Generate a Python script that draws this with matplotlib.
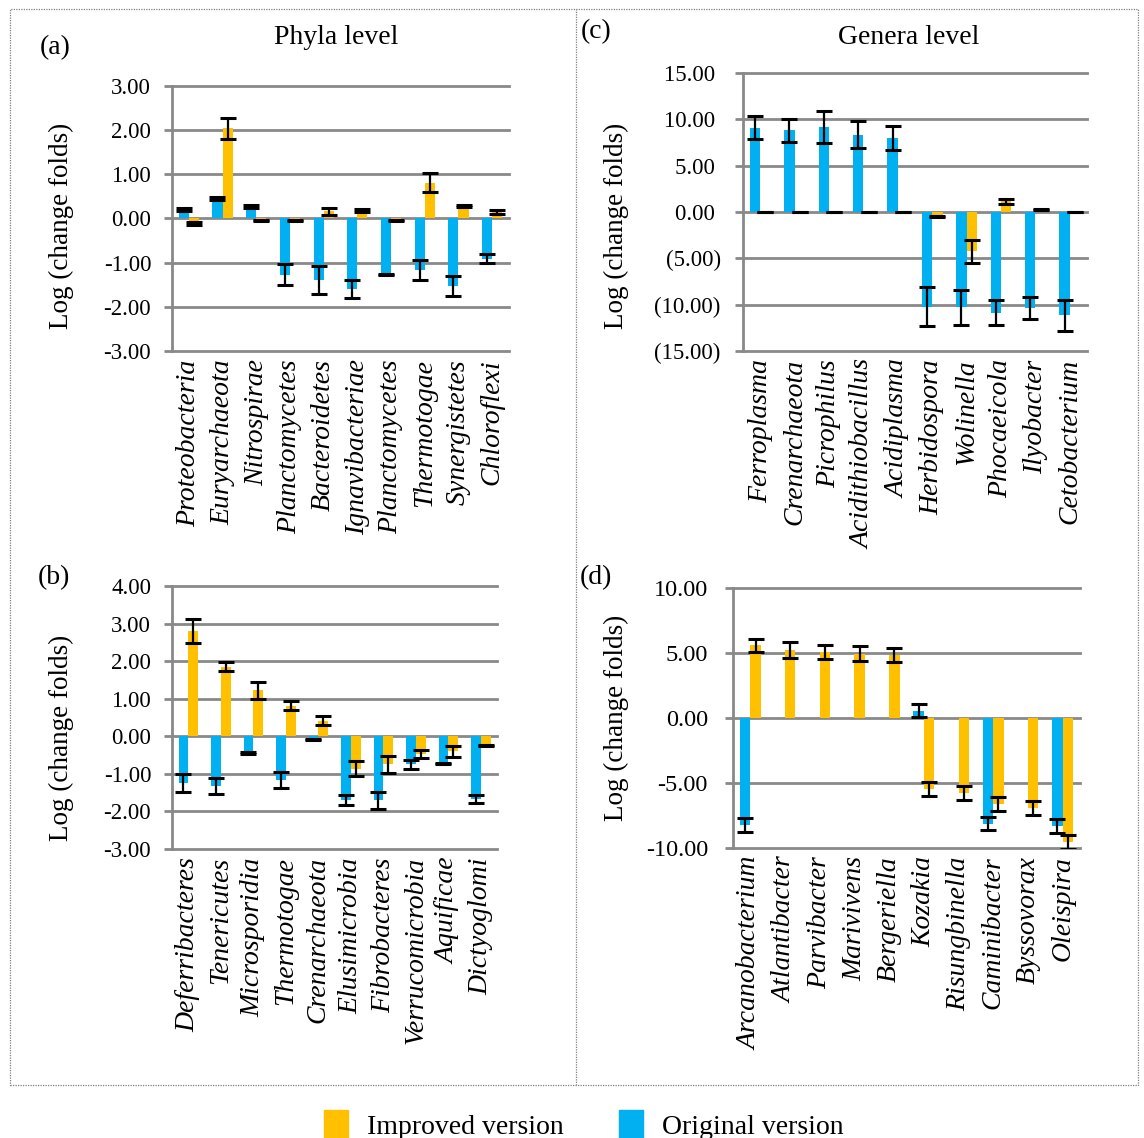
import numpy as np
import matplotlib
matplotlib.use("Agg")
import matplotlib.pyplot as plt
from matplotlib.patches import Rectangle, Patch
from matplotlib.lines import Line2D
from matplotlib.ticker import FuncFormatter

# %% data: log change folds, mean and error for each version
phyla_a = ["Proteobacteria", "Euryarchaeota", "Nitrospirae", "Planctomycetes", "Bacteroidetes",
           "Ignavibacteriae", "Planctomycetes", "Thermotogae", "Synergistetes", "Chloroflexi"]
orig_a = [0.20, 0.45, 0.27, -1.27, -1.40, -1.60, -1.27, -1.16, -1.53, -0.91]
orig_a_err = [0.04, 0.04, 0.03, 0.23, 0.32, 0.21, 0.02, 0.23, 0.23, 0.10]
impr_a = [-0.11, 2.04, -0.05, -0.05, 0.16, 0.18, -0.05, 0.81, 0.28, 0.15]
impr_a_err = [0.03, 0.23, 0.01, 0.01, 0.08, 0.03, 0.01, 0.22, 0.03, 0.04]

phyla_b = ["Deferribacteres", "Tenericutes", "Microsporidia", "Thermotogae", "Crenarchaeota",
           "Elusimicrobia", "Fibrobacteres", "Verrucomicrobia", "Aquificae", "Dictyoglomi"]
orig_b = [-1.24, -1.32, -0.44, -1.16, -0.09, -1.70, -1.70, -0.75, -0.72, -1.66]
orig_b_err = [0.24, 0.22, 0.02, 0.21, 0.02, 0.13, 0.23, 0.12, 0.02, 0.11]
impr_b = [2.80, 1.85, 1.22, 0.81, 0.41, -0.86, -0.75, -0.48, -0.40, -0.25]
impr_b_err = [0.32, 0.12, 0.23, 0.12, 0.12, 0.21, 0.22, 0.11, 0.14, 0.02]

genera_c = ["Ferroplasma", "Crenarchaeota", "Picrophilus", "Acidithiobacillus", "Acidiplasma",
            "Herbidospora", "Wolinella", "Phocaeicola", "Ilyobacter", "Cetobacterium"]
orig_c = [9.10, 8.80, 9.20, 8.35, 7.95, -10.20, -10.30, -10.85, -10.40, -11.15]
orig_c_err = [1.25, 1.25, 1.75, 1.45, 1.30, 2.10, 1.90, 1.30, 1.20, 1.70]
impr_c = [0.0, 0.0, 0.0, 0.0, 0.0, -0.45, -4.25, 1.15, 0.30, 0.0]
impr_c_err = [0.0, 0.0, 0.0, 0.0, 0.0, 0.05, 1.25, 0.30, 0.05, 0.0]

genera_d = ["Arcanobacterium", "Atlantibacter", "Parvibacter", "Marivivens", "Bergeriella",
            "Kozakia", "Risungbinella", "Caminibacter", "Byssovorax", "Oleispira"]
orig_d = [-8.25, 0.0, 0.0, 0.0, 0.0, 0.55, 0.0, -8.15, 0.0, -8.30]
orig_d_err = [0.55, np.nan, np.nan, np.nan, np.nan, 0.50, np.nan, 0.50, np.nan, 0.55]
impr_d = [5.60, 5.25, 5.08, 4.95, 4.87, -5.45, -5.75, -6.60, -6.90, -9.55]
impr_d_err = [0.50, 0.60, 0.57, 0.55, 0.55, 0.55, 0.55, 0.53, 0.55, 0.55]

# %% style
ORANGE = "#FFC000"
BLUE = "#00B0F0"
GRID = "#898989"
plt.rcParams['font.family'] = ['Liberation Serif', 'DejaVu Serif']

W, H = 1144, 1138
fig = plt.figure(figsize=(W / 100, H / 100), dpi=100)


def px_rect(left, top, right, bottom):
    # pixel box -> figure fraction box
    return [left / W, 1 - bottom / H, (right - left) / W, (bottom - top) / H]


def plain_fmt(v, pos):
    return "%.2f" % v


def paren_fmt(v, pos):
    # accounting style: negatives in brackets, positives padded on the right
    if v < 0:
        return "(%.2f)" % abs(v)
    return "%.2f " % v


def panel(rect, cats, orig, orig_err, impr, impr_err, yticks, tick_fs, tick_pad, fmt=plain_fmt):
    ax = fig.add_axes(px_rect(*rect))
    x = np.arange(len(cats))
    w = 0.3
    ax.bar(x - w / 2, orig, w, color=BLUE, zorder=2)
    ax.bar(x + w / 2, impr, w, color=ORANGE, zorder=2)
    for xs, vals, errs in [(x - w / 2, orig, orig_err), (x + w / 2, impr, impr_err)]:
        vals = np.asarray(vals, float)
        errs = np.asarray(errs, float)
        ok = np.isfinite(errs)
        ax.errorbar(xs[ok], vals[ok], yerr=errs[ok], fmt="none", ecolor="black",
                    elinewidth=1.6, capsize=5.5, capthick=2.2, zorder=3)
    # horizontal gridlines at every tick, including the limits
    for t in yticks:
        ax.axhline(t, color=GRID, lw=2.0, zorder=1, clip_on=False)
    ax.set_ylim(yticks[0], yticks[-1])
    ax.set_xlim(-0.5, len(cats) - 0.5)
    ax.set_yticks(yticks)
    ax.yaxis.set_major_formatter(FuncFormatter(fmt))
    ax.tick_params(axis="y", length=6, width=2.0, color=GRID, labelsize=tick_fs, pad=tick_pad)
    ax.set_xticks(x)
    ax.set_xticklabels(cats, rotation=90, fontsize=20, style="italic")
    ax.tick_params(axis="x", length=0, pad=6)
    for s in ["top", "right", "bottom"]:
        ax.spines[s].set_visible(False)
    ax.spines["left"].set_color(GRID)
    ax.spines["left"].set_linewidth(2.0)
    return ax


panel((172, 86, 509, 351), phyla_a, orig_a, orig_a_err, impr_a, impr_a_err,
      [-3, -2, -1, 0, 1, 2, 3], 16.5, 9)
panel((172, 586, 497, 849), phyla_b, orig_b, orig_b_err, impr_b, impr_b_err,
      [-3, -2, -1, 0, 1, 2, 3, 4], 16.5, 9)
panel((743, 73, 1087, 351), genera_c, orig_c, orig_c_err, impr_c, impr_c_err,
      [-15, -10, -5, 0, 5, 10, 15], 16.5, 10, fmt=paren_fmt)
panel((733, 588, 1080, 848), genera_d, orig_d, orig_d_err, impr_d, impr_d_err,
      [-10, -5, 0, 5, 10], 17.5, 12)

# %% panel texts
def ftext(xp, yp, s, **kw):
    fig.text(xp / W, 1 - yp / H, s, ha="center", va="center", **kw)

ftext(336, 37, "Phyla level", fontsize=20)
ftext(909, 37, "Genera level", fontsize=20)
ftext(55, 48, "(a)", fontsize=20)
ftext(596, 32, "(c)", fontsize=20)
ftext(54, 578, "(b)", fontsize=20)
ftext(596, 578, "(d)", fontsize=20)
for xp, yp in [(61, 226), (61, 738), (616, 226), (616, 718)]:
    ftext(xp, yp, "Log (change folds)", fontsize=19.5, rotation=90)

# %% dotted frame around the panels
fig.patches.append(Rectangle((10 / W, 1 - 1085 / H), 1128 / W, 1076 / H, transform=fig.transFigure,
                             fill=False, ls=(0, (1, 1)), lw=0.9, ec="#808080"))
fig.lines.append(Line2D([576 / W, 576 / W], [1 - 1085 / H, 1 - 9 / H], transform=fig.transFigure,
                        ls=(0, (1, 1)), lw=0.9, color="#808080"))

# %% legend
handles = [Patch(color=ORANGE, label="Improved version"), Patch(color=BLUE, label="Original version")]
fig.legend(handles=handles, loc="center", bbox_to_anchor=(584 / W, 1 - 1125 / H), ncol=2,
           frameon=False, fontsize=20, handlelength=0.85, handleheight=1.3, handletextpad=0.7,
           columnspacing=2.0, borderpad=0)

fig.savefig("out.png", dpi=100)
